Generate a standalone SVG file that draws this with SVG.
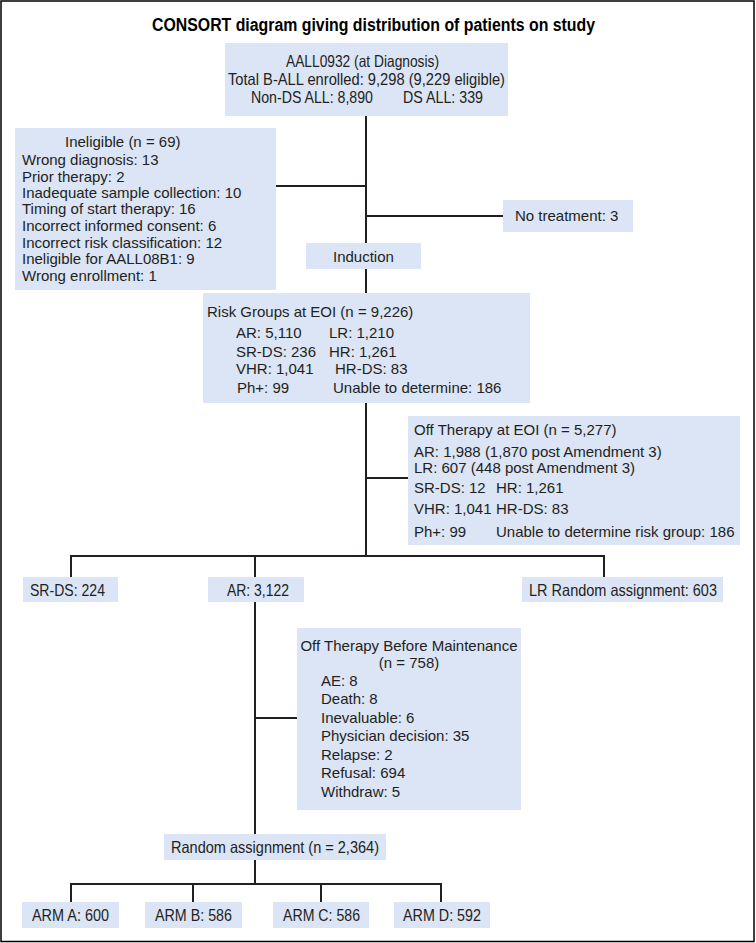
<svg xmlns="http://www.w3.org/2000/svg" width="756" height="943" viewBox="0 0 756 943">
<style>
.box{fill:#dbe5f6;stroke:none}
.t{font-family:"Liberation Sans",Arial,sans-serif;font-size:15px;fill:#231f20}
.c{font-family:"Liberation Sans",Arial,sans-serif;font-size:16.5px;fill:#231f20}
.title{font-family:"Liberation Sans",Arial,sans-serif;font-size:18px;font-weight:bold;fill:#000}
.ln{stroke:#231f20;stroke-width:2;fill:none}
</style>
<rect x="1" y="1" width="753" height="940.5" fill="#fff" stroke="#000" stroke-width="1.5"/>
<text class="title" x="152" y="31" textLength="443" lengthAdjust="spacingAndGlyphs">CONSORT diagram giving distribution of patients on study</text>

<g id="connectors">
<path class="ln" d="M366 116V243M366 269V293M366 403V556"/>
<path class="ln" d="M276 186H366M366 216H503M366 478H408"/>
<path class="ln" d="M71 577V556H604V577M255 556V577"/>
<path class="ln" d="M255 602V834M255 718H297M255 860V884"/>
<path class="ln" d="M71 902V884H441V902M193 884V902M321 884V902"/>
</g>

<g id="enrolled">
<rect class="box" x="225" y="43" width="283" height="73"/>
<text class="c" x="286" y="67" textLength="153" lengthAdjust="spacingAndGlyphs">AALL0932 (at Diagnosis)</text>
<text class="c" x="228" y="85" textLength="277" lengthAdjust="spacingAndGlyphs">Total B-ALL enrolled: 9,298 (9,229 eligible)</text>
<text class="c" x="251" y="103" textLength="122" lengthAdjust="spacingAndGlyphs">Non-DS ALL: 8,890</text>
<text class="c" x="403" y="103" textLength="80" lengthAdjust="spacingAndGlyphs">DS ALL: 339</text>
</g>

<g id="ineligible">
<rect class="box" x="15" y="128" width="261" height="162"/>
<text class="t" x="65" y="147">Ineligible (n = 69)</text>
<text class="t" x="22" y="165">Wrong diagnosis: 13</text>
<text class="t" x="22" y="182">Prior therapy: 2</text>
<text class="t" x="22" y="198">Inadequate sample collection: 10</text>
<text class="t" x="22" y="214">Timing of start therapy: 16</text>
<text class="t" x="22" y="231">Incorrect informed consent: 6</text>
<text class="t" x="22" y="248">Incorrect risk classification: 12</text>
<text class="t" x="22" y="264">Ineligible for AALL08B1: 9</text>
<text class="t" x="22" y="281">Wrong enrollment: 1</text>
</g>

<g id="no-treatment">
<rect class="box" x="503" y="200" width="130" height="32"/>
<text class="t" x="515" y="221">No treatment: 3</text>
</g>

<g id="induction">
<rect class="box" x="306" y="243" width="115" height="26"/>
<text class="t" x="333" y="262">Induction</text>
</g>

<g id="risk-groups">
<rect class="box" x="203" y="293" width="327" height="110"/>
<text class="t" x="207" y="317">Risk Groups at EOI (n = 9,226)</text>
<text class="t" x="236" y="338">AR: 5,110</text>
<text class="t" x="329" y="338">LR: 1,210</text>
<text class="t" x="236" y="357">SR-DS: 236</text>
<text class="t" x="329" y="357">HR: 1,261</text>
<text class="t" x="236" y="374">VHR: 1,041</text>
<text class="t" x="335" y="374">HR-DS: 83</text>
<text class="t" x="237" y="393">Ph+: 99</text>
<text class="t" x="333" y="393">Unable to determine: 186</text>
</g>

<g id="off-therapy-eoi">
<rect class="box" x="408" y="416" width="332" height="129"/>
<text class="t" x="414" y="435">Off Therapy at EOI (n = 5,277)</text>
<text class="t" x="414" y="457">AR: 1,988 (1,870 post Amendment 3)</text>
<text class="t" x="414" y="473">LR: 607 (448 post Amendment 3)</text>
<text class="t" x="414" y="493">SR-DS: 12</text>
<text class="t" x="496" y="493">HR: 1,261</text>
<text class="t" x="414" y="514">VHR: 1,041</text>
<text class="t" x="496" y="514">HR-DS: 83</text>
<text class="t" x="414" y="537">Ph+: 99</text>
<text class="t" x="496" y="537">Unable to determine risk group: 186</text>
</g>

<g id="sr-ds">
<rect class="box" x="23" y="577" width="95" height="25"/>
<text class="c" x="30" y="596" textLength="75" lengthAdjust="spacingAndGlyphs">SR-DS: 224</text>
</g>

<g id="ar">
<rect class="box" x="208" y="577" width="96" height="25"/>
<text class="c" x="227" y="596" textLength="62" lengthAdjust="spacingAndGlyphs">AR: 3,122</text>
</g>

<g id="lr-random">
<rect class="box" x="522" y="577" width="201" height="25"/>
<text class="c" x="529" y="596" textLength="188" lengthAdjust="spacingAndGlyphs">LR Random assignment: 603</text>
</g>

<g id="off-therapy-maintenance">
<rect class="box" x="297" y="628" width="224" height="182"/>
<text class="t" x="409" y="651" text-anchor="middle">Off Therapy Before Maintenance</text>
<text class="t" x="409" y="668" text-anchor="middle">(n = 758)</text>
<text class="t" x="321" y="686">AE: 8</text>
<text class="t" x="321" y="704">Death: 8</text>
<text class="t" x="321" y="723">Inevaluable: 6</text>
<text class="t" x="321" y="741">Physician decision: 35</text>
<text class="t" x="321" y="760">Relapse: 2</text>
<text class="t" x="321" y="778">Refusal: 694</text>
<text class="t" x="321" y="797">Withdraw: 5</text>
</g>

<g id="random-assignment">
<rect class="box" x="164" y="834" width="222" height="26"/>
<text class="c" x="171" y="853" textLength="208" lengthAdjust="spacingAndGlyphs">Random assignment (n = 2,364)</text>
</g>

<g id="arm-a">
<rect class="box" x="22" y="902" width="97" height="26"/>
<text class="c" x="32" y="921" textLength="77" lengthAdjust="spacingAndGlyphs">ARM A: 600</text>
</g>
<g id="arm-b">
<rect class="box" x="145" y="902" width="97" height="26"/>
<text class="c" x="155" y="921" textLength="77" lengthAdjust="spacingAndGlyphs">ARM B: 586</text>
</g>
<g id="arm-c">
<rect class="box" x="273" y="902" width="96" height="26"/>
<text class="c" x="283" y="921" textLength="77" lengthAdjust="spacingAndGlyphs">ARM C: 586</text>
</g>
<g id="arm-d">
<rect class="box" x="394" y="902" width="96" height="26"/>
<text class="c" x="403" y="921" textLength="78" lengthAdjust="spacingAndGlyphs">ARM D: 592</text>
</g>
</svg>
